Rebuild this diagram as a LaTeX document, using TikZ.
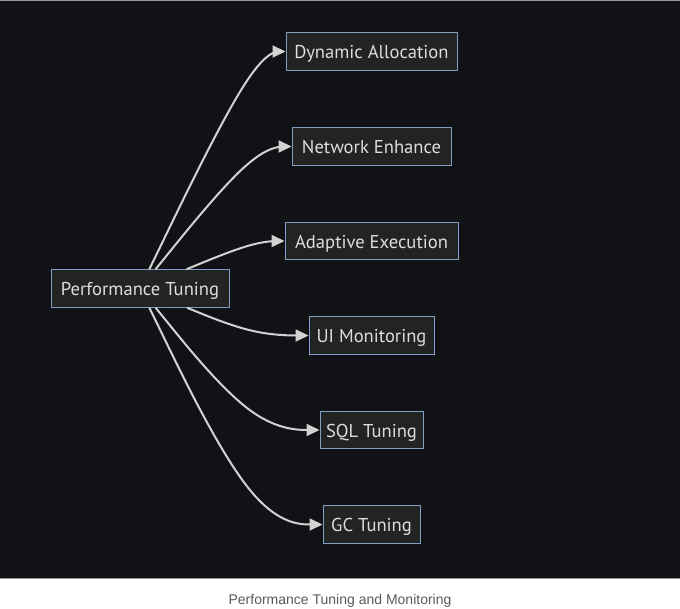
\documentclass[tikz,border=0pt]{standalone}
\usepackage{fontspec}
\newfontfamily\nodefont{PT Sans}
\newfontfamily\capfont{Liberation Sans}
\usetikzlibrary{arrows.meta,calc}
\definecolor{bgdark}{RGB}{16,18,22}
\definecolor{nodefill}{RGB}{34,35,34}
\definecolor{nodeedge}{RGB}{127,159,194}
\definecolor{nodetext}{RGB}{221,221,221}
\definecolor{edgecol}{RGB}{210,210,210}
\definecolor{capcol}{RGB}{90,90,90}
\definecolor{rulecol}{RGB}{150,150,150}
\tikzset{
  box/.style={draw=nodeedge, fill=nodefill, line width=1pt, inner sep=0pt,
    minimum height=37.5pt, text height=18pt, text depth=3.6pt, text=nodetext,
    font=\nodefont\fontsize{18.6}{21}\selectfont},
  conn/.style={draw=edgecol, line width=2pt, -{Triangle[length=13pt,width=12pt]}},
}
\newcommand{\mmedge}[3]{% src, via-coordinate, dst
  \path (#1) -- (#2) coordinate[pos=0] (#2s);
  \path (#2) -- (#3) coordinate[pos=1] (#2e);
  \draw[conn] (#1) -- ($(#2s)!1/6!(#2)$)
    .. controls ($(#2s)!1/3!(#2)$) and ($(#2s)!2/3!(#2)$) ..
    ($1/6*(#2s)+2/3*(#2)+1/6*(#2e)$)
    .. controls ($(#2)!1/3!(#2e)$) and ($(#2)!2/3!(#2e)$) ..
    ($(#2)!5/6!(#2e)$) -- (#3);
}
\begin{document}
\begin{tikzpicture}[x=1pt,y=-1pt]
\useasboundingbox (0,0) rectangle (680,609);
\fill[white] (0,0) rectangle (680,609);
\fill[bgdark] (0,0) rectangle (680,579);
\draw[rulecol, line width=1pt] (0,0.5) -- (680,0.5);
\draw[rulecol, line width=1.2pt] (0,578.5) -- (680,578.5);

\node[box, minimum width=178pt] (pt) at (140,288.5) {Performance Tuning};
\node[box, minimum width=171pt] (dyn) at (371.5,51.5) {Dynamic Allocation};
\node[box, minimum width=159pt] (net) at (371.5,146.5) {Network Enhance};
\node[box, minimum width=173pt] (ada) at (371.5,241) {Adaptive Execution};
\node[box, minimum width=125pt] (ui) at (371.5,335.5) {UI Monitoring};
\node[box, minimum width=103pt] (sql) at (371.5,430) {SQL Tuning};
\node[box, minimum width=97pt] (gc) at (371.5,524.5) {GC Tuning};

\coordinate (k1) at (255,51.5);
\coordinate (k2) at (255,146.5);
\coordinate (k3) at (255,241);
\coordinate (k4) at (255,335.5);
\coordinate (k5) at (255,430);
\coordinate (k6) at (255,524.5);

\mmedge{pt}{k1}{dyn}
\mmedge{pt}{k2}{net}
\mmedge{pt}{k3}{ada}
\mmedge{pt}{k4}{ui}
\mmedge{pt}{k5}{sql}
\mmedge{pt}{k6}{gc}

\node[text=capcol, font=\capfont\fontsize{14}{16}\selectfont] (cap) at (340,601) {Performance Tuning and Monitoring};
\end{tikzpicture}
\end{document}
